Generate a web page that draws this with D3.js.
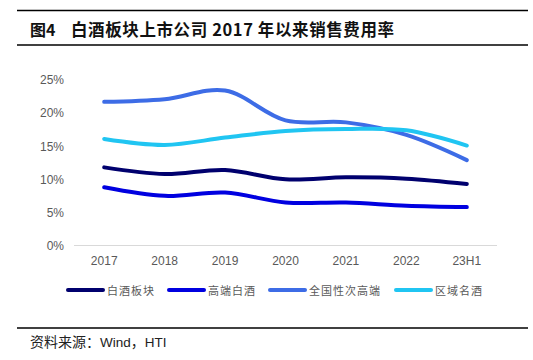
<!DOCTYPE html>
<html><head><meta charset="utf-8">
<script src="https://cdn.jsdelivr.net/npm/d3@7"></script>
<style>body{margin:0;background:#fff}svg{display:block}</style>
</head><body>
<svg id="c" width="533" height="360"></svg>
<script>
const categories = ["2017","2018","2019","2020","2021","2022","23H1"];
const seriesNames = ["白酒板块","高端白酒","全国性次高端","区域名酒"];
const baijiu = [11.8,10.8,11.4,10.0,10.3,10.1,9.3];
const gaoduan = [8.8,7.5,8.0,6.5,6.5,6.0,5.8];
const cigaoduan = [21.7,22.1,23.4,18.9,18.6,16.7,12.9];
const quyu = [16.1,15.2,16.3,17.3,17.6,17.4,15.1];
const yTicks = [0,5,10,15,20,25];
const colors = ["#00006e","#0000e0","#3d6ce6","#20c5f2"];
const seriesValues = [baijiu,gaoduan,cigaoduan,quyu];

const svg = d3.select("#c");
const cjk = "'Noto Sans CJK SC', sans-serif";
const lat = "'Liberation Sans', Arial, sans-serif";

// rules
[10.5,45,328].forEach(y=>svg.append("line").attr("x1",17).attr("x2",528).attr("y1",y).attr("y2",y).attr("stroke","#000").attr("stroke-width",1.3));
svg.append("text").attr("x",30).attr("y",36).attr("font-family",cjk).attr("font-weight","bold").attr("font-size",16).attr("fill","#111").text("图4");
svg.append("text").attr("x",71).attr("y",36).attr("font-family",cjk).attr("font-weight","bold").attr("font-size",16.5).attr("letter-spacing",0.6).attr("fill","#111").text("白酒板块上市公司 2017 年以来销售费用率");
const foot = svg.append("text").attr("x",30).attr("y",347).attr("fill","#222");
foot.append("tspan").attr("font-family",cjk).attr("font-size",14).text("资料来源：");
foot.append("tspan").attr("font-family",lat).attr("font-size",13.5).text("Wind");
foot.append("tspan").attr("font-family",cjk).attr("font-size",14).text("，");
foot.append("tspan").attr("font-family",lat).attr("font-size",13.5).text("HTI");

const x = d3.scaleBand().domain(categories).range([74,497]);
const y = d3.scaleLinear().domain([0,25]).range([245.5,80]);

// baseline
svg.append("line").attr("x1",74).attr("x2",497).attr("y1",y(0)).attr("y2",y(0)).attr("stroke","#d9d9d9").attr("stroke-width",1.2);

const xAxis = svg.append("g").attr("transform",`translate(0,${y(0)})`).call(d3.axisBottom(x).tickSize(0).tickPadding(11));
xAxis.select(".domain").remove();
xAxis.selectAll("text").attr("font-family",lat).attr("font-size",12).attr("fill","#595959");

const yAxis = svg.append("g").attr("transform","translate(64,0)").call(d3.axisLeft(y).tickValues(yTicks).tickSize(0).tickPadding(0).tickFormat(d=>d+"%"));
yAxis.select(".domain").remove();
yAxis.selectAll("text").attr("font-family",lat).attr("font-size",12).attr("fill","#595959");

const line = d3.line().x((d,i)=>x(categories[i])+x.bandwidth()/2).y(d=>y(d)).curve(d3.curveCatmullRom.alpha(0.5));
seriesValues.forEach((vals,k)=>{
  svg.append("path").attr("d",line(vals)).attr("fill","none").attr("stroke",colors[k]).attr("stroke-width",4).attr("stroke-linecap","round");
});

// legend
const legX = [68,169,270,396];
seriesNames.forEach((n,k)=>{
  const g = svg.append("g").attr("transform",`translate(${legX[k]},290)`);
  g.append("line").attr("x1",0).attr("x2",35).attr("y1",0).attr("y2",0).attr("stroke",colors[k]).attr("stroke-width",4).attr("stroke-linecap","round");
  g.append("text").attr("x",39).attr("y",4.5).attr("font-family",cjk).attr("font-size",11).attr("letter-spacing",1).attr("fill","#595959").text(n);
});
</script>
</body></html>
